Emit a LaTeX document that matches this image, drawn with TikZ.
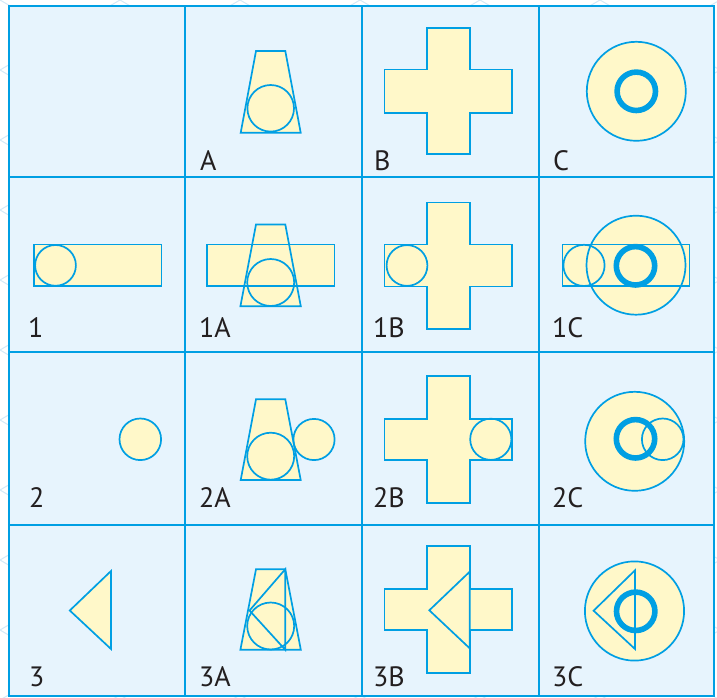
\documentclass[tikz,border=0pt]{standalone}
\usepackage{fontspec}
\setmainfont{PT Sans}
\definecolor{lineblue}{HTML}{009FE3}
\definecolor{cellbg}{HTML}{E7F4FD}
\definecolor{shapeyellow}{HTML}{FFF8C9}
\definecolor{lattblue}{HTML}{D3E9F7}
\definecolor{txtblack}{HTML}{231F20}
\newcommand{\mycrossp}[8]{(#1,#3)--(#2,#3)--(#2,#7)--(#6,#7)--(#6,#8)--(#2,#8)--(#2,#4)--(#1,#4)--(#1,#8)--(#5,#8)--(#5,#7)--(#1,#7)--cycle}
\newcommand{\myshapes}[1]{%
  % row 1
  \path[#1] (256,51)--(285.3,51)--(300.7,132.7)--(240.7,132.7)--cycle;
  \path[#1] (270.7,108.3) circle[radius=23.3pt];
  \path[#1] \mycrossp{427.3}{470}{28}{154.3}{384.5}{512.3}{69.5}{113};
  \path[#1] (636.3,91.3) circle[radius=49.5pt];
  % row 2
  \path[#1] (34,244.5) rectangle (161.5,286.3);
  \path[#1] (55.5,265.4) circle[radius=20.4pt];
  \path[#1] (207.2,244.5) rectangle (334.5,286.3);
  \path[#1] (256,224.5)--(285.3,224.5)--(300.8,306.3)--(240.4,306.3)--cycle;
  \path[#1] (270.7,282.5) circle[radius=23.5pt];
  \path[#1] \mycrossp{427.3}{470}{202.5}{329}{384.5}{512.3}{244.5}{286.5};
  \path[#1] (407,265.5) circle[radius=20.4pt];
  \path[#1] (636,265.2) circle[radius=49.5pt];
  \path[#1] (562.5,244.5) rectangle (689.5,286.3);
  \path[#1] (584,265.4) circle[radius=20.6pt];
  % row 3
  \path[#1] (140.3,439.3) circle[radius=20.8pt];
  \path[#1] (256,399.3)--(285.3,399.3)--(300.7,480)--(240.7,480)--cycle;
  \path[#1] (270.7,456.2) circle[radius=23.5pt];
  \path[#1] (314,439.5) circle[radius=20.6pt];
  \path[#1] \mycrossp{427.3}{470}{376}{503.3}{384.6}{512}{419}{460.3};
  \path[#1] (490.8,439.3) circle[radius=20.6pt];
  \path[#1] (634.7,441.3) circle[radius=49.5pt];
  \path[#1] (662.7,439.3) circle[radius=20.8pt];
  % row 4
  \path[#1] (111,571)--(111,649)--(69.8,610.5)--cycle;
  \path[#1] (256,569.3)--(285.3,569.3)--(300.8,649.7)--(240.4,649.7)--cycle;
  \path[#1] (270.7,626) circle[radius=23.5pt];
  \path[#1] (285.2,569.3)--(285.2,649.7)--(249.5,610.5)--cycle;
  \path[#1] \mycrossp{427.3}{470}{546}{673.3}{384.5}{512}{589}{630.3};
  \path[#1] (469.7,571.7)--(469.7,648.3)--(429.3,610.3)--cycle;
  \path[#1] (634.5,611) circle[radius=49.6pt];
  \path[#1] (635,570.3)--(635,649)--(593.6,610.7)--cycle;
}
\begin{document}
\begin{tikzpicture}[x=1pt,y=-1pt,
  shapefill/.style={fill=shapeyellow},
  shapeline/.style={draw=lineblue, line width=1.7pt, line join=miter},
  ringline/.style={draw=lineblue, line width=5.6pt},
  gridline/.style={draw=lineblue, line width=2pt},
  frameline/.style={draw=lineblue, line width=2.5pt},
  lattice/.style={draw=lattblue, line width=1pt},
  lab/.style={anchor=base west, inner sep=0pt, font=\fontsize{28}{30}\selectfont, text=txtblack}]
\useasboundingbox (0,0) rectangle (717,698);
\fill[white] (0,0) rectangle (717,698);
\begin{scope}
\clip (0,0) rectangle (717,698);
\foreach \k in {-7,...,10} {\draw[lattice] (0,70*\k) -- (717,70*\k+418.25);}
\foreach \k in {0,...,17} {\draw[lattice] (0,70*\k) -- (717,70*\k-418.25);}
\end{scope}
% grid
\fill[cellbg] (9,6) rectangle (714,696);
\foreach \gx in {184.5,362,539} {\draw[gridline] (\gx,6) -- (\gx,696);}
\foreach \gy in {177,352,525} {\draw[gridline] (9,\gy) -- (714,\gy);}
\draw[frameline] (9,6) rectangle (714,696);
% shapes
\myshapes{shapefill}
\myshapes{shapeline}
\path[ringline] (636.3,91.3) circle[radius=19.2pt];
\path[ringline] (635.5,265.8) circle[radius=19.2pt];
\path[ringline] (635.5,438.8) circle[radius=19.2pt];
\path[ringline] (635.7,611.3) circle[radius=19.2pt];
% labels
\node[lab] (lA) at (200,170) {A};
\node[lab] (lB) at (374,170) {B};
\node[lab] (lC) at (553,170) {C};
\node[lab] (l1) at (28,337) {1};
\node[lab] (l1A) at (199,337) {1A};
\node[lab] (l1B) at (373,337) {1B};
\node[lab] (l1C) at (552,337) {1C};
\node[lab] (l2) at (29,507) {2};
\node[lab] (l2A) at (199,507) {2A};
\node[lab] (l2B) at (373,507) {2B};
\node[lab] (l2C) at (552,507) {2C};
\node[lab] (l3) at (29,686) {3};
\node[lab] (l3A) at (199,686) {3A};
\node[lab] (l3B) at (373,686) {3B};
\node[lab] (l3C) at (552,686) {3C};
\end{tikzpicture}
\end{document}
